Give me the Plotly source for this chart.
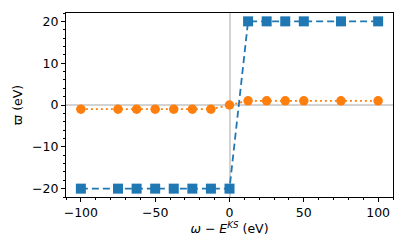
import plotly.graph_objects as go

x_vals = [-100, -75, -62.5, -50, -37.5, -25, -12.5, 0, 12.5, 25, 37.5, 50, 75, 100]
blue_vals = [-20, -20, -20, -20, -20, -20, -20, -20, 20, 20, 20, 20, 20, 20]
orange_vals = [-1, -1, -1, -1, -1, -1, -1, 0, 1, 1, 1, 1, 1, 1]
x_ticks = [-100, -50, 0, 50, 100]
y_ticks = [-20, -10, 0, 10, 20]

fig = go.Figure()
fig.add_trace(go.Scatter(
    x=x_vals, y=blue_vals, mode="lines+markers",
    line=dict(color="#1f77b4", width=1.8, dash="7px,4px"),
    marker=dict(symbol="square", size=10, color="#1f77b4"),
    showlegend=False))
fig.add_trace(go.Scatter(
    x=x_vals, y=orange_vals, mode="lines+markers",
    line=dict(color="#ff7f0e", width=1.8, dash="2px,3px"),
    marker=dict(symbol="circle", size=9.5, color="#ff7f0e"),
    showlegend=False))

font = dict(family="DejaVu Sans", size=12.5, color="black")
fig.update_layout(
    width=399, height=236,
    margin=dict(l=58, r=14, t=5, b=47),
    paper_bgcolor="white", plot_bgcolor="white",
    font=font,
    xaxis=dict(
        range=[-110, 110], tickvals=x_ticks, automargin=False,
        ticktext=["\u2212100", "\u221250", "0", "50", "100"],
        ticks="outside", ticklen=4, tickwidth=1, tickcolor="black",
        showline=True, linecolor="black", linewidth=1, mirror=True,
        showgrid=False, zeroline=True, zerolinecolor="#d3d3d3", zerolinewidth=2,
        minor=dict(dtick=10, tick0=0, ticks="outside", ticklen=2, tickcolor="black", showgrid=False),
        title=dict(text="<i>ω</i> \u2212 <i>E</i><sup><i>KS</i></sup> (eV)", font=font, standoff=2),
        tickfont=font,
    ),
    yaxis=dict(
        range=[-22, 22], tickvals=y_ticks, automargin=False,
        ticktext=["\u221220", "\u221210", "0", "10", "20"],
        ticks="outside", ticklen=4, tickwidth=1, tickcolor="black",
        showline=True, linecolor="black", linewidth=1, mirror=True,
        showgrid=False, zeroline=True, zerolinecolor="#d3d3d3", zerolinewidth=2,
        minor=dict(dtick=2, tick0=0, ticks="outside", ticklen=2, tickcolor="black", showgrid=False),
        title=dict(text="ϖ (eV)", font=font, standoff=6),
        tickfont=font,
    ),
)
fig.write_html("out.html")
